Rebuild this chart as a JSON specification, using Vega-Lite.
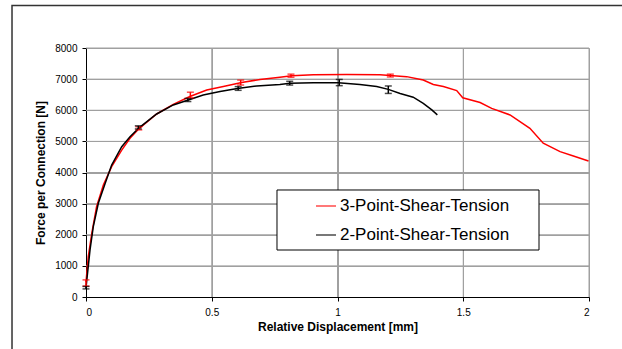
{
  "$schema": "https://vega.github.io/schema/vega-lite/v6.json",
  "width": 503,
  "height": 249,
  "autosize": {"type": "none"},
  "padding": {"left": 86, "top": 48, "right": 33, "bottom": 52},
  "background": "white",
  "config": {
    "font": "Liberation Sans",
    "view": {"stroke": null},
    "axis": {
      "domainColor": "#000000",
      "domainWidth": 1,
      "tickColor": "#000000",
      "tickSize": 4,
      "tickWidth": 1,
      "grid": true,
      "gridColor": "#a0a0a0",
      "gridWidth": 1,
      "labelFontSize": 10,
      "labelColor": "#000000",
      "labelFont": "Liberation Sans",
      "titleFont": "Liberation Sans",
      "titleFontSize": 12,
      "titleFontWeight": "bold",
      "titleColor": "#000000"
    },
    "axisX": {"labelPadding": 6, "titlePadding": 4},
    "axisY": {"labelPadding": 5, "titlePadding": 7}
  },
  "datasets": {
    "gridX": [{"gx": 0.5}, {"gx": 1}, {"gx": 1.5}, {"gx": 2}],
    "gridY": [{"gy": 1000}, {"gy": 2000}, {"gy": 3000}, {"gy": 4000}, {"gy": 5000}, {"gy": 6000}, {"gy": 7000}, {"gy": 8000}],
    "curves": [
      {"series": "3-Point-Shear-Tension", "d": 0, "force": 480},
      {"series": "3-Point-Shear-Tension", "d": 0.009, "force": 1295},
      {"series": "3-Point-Shear-Tension", "d": 0.023, "force": 2045},
      {"series": "3-Point-Shear-Tension", "d": 0.042, "force": 2900},
      {"series": "3-Point-Shear-Tension", "d": 0.069, "force": 3600},
      {"series": "3-Point-Shear-Tension", "d": 0.102, "force": 4190},
      {"series": "3-Point-Shear-Tension", "d": 0.142, "force": 4720},
      {"series": "3-Point-Shear-Tension", "d": 0.175, "force": 5100},
      {"series": "3-Point-Shear-Tension", "d": 0.212, "force": 5420},
      {"series": "3-Point-Shear-Tension", "d": 0.281, "force": 5880},
      {"series": "3-Point-Shear-Tension", "d": 0.347, "force": 6190},
      {"series": "3-Point-Shear-Tension", "d": 0.413, "force": 6440},
      {"series": "3-Point-Shear-Tension", "d": 0.48, "force": 6650},
      {"series": "3-Point-Shear-Tension", "d": 0.546, "force": 6760},
      {"series": "3-Point-Shear-Tension", "d": 0.619, "force": 6890},
      {"series": "3-Point-Shear-Tension", "d": 0.692, "force": 6990},
      {"series": "3-Point-Shear-Tension", "d": 0.771, "force": 7060},
      {"series": "3-Point-Shear-Tension", "d": 0.818, "force": 7110},
      {"series": "3-Point-Shear-Tension", "d": 0.904, "force": 7140},
      {"series": "3-Point-Shear-Tension", "d": 1.037, "force": 7150},
      {"series": "3-Point-Shear-Tension", "d": 1.169, "force": 7140},
      {"series": "3-Point-Shear-Tension", "d": 1.222, "force": 7110},
      {"series": "3-Point-Shear-Tension", "d": 1.275, "force": 7080},
      {"series": "3-Point-Shear-Tension", "d": 1.341, "force": 6970},
      {"series": "3-Point-Shear-Tension", "d": 1.381, "force": 6830},
      {"series": "3-Point-Shear-Tension", "d": 1.421, "force": 6760},
      {"series": "3-Point-Shear-Tension", "d": 1.474, "force": 6630},
      {"series": "3-Point-Shear-Tension", "d": 1.498, "force": 6400},
      {"series": "3-Point-Shear-Tension", "d": 1.567, "force": 6250},
      {"series": "3-Point-Shear-Tension", "d": 1.613, "force": 6060},
      {"series": "3-Point-Shear-Tension", "d": 1.686, "force": 5850},
      {"series": "3-Point-Shear-Tension", "d": 1.765, "force": 5420},
      {"series": "3-Point-Shear-Tension", "d": 1.818, "force": 4940},
      {"series": "3-Point-Shear-Tension", "d": 1.885, "force": 4670},
      {"series": "3-Point-Shear-Tension", "d": 1.938, "force": 4530},
      {"series": "3-Point-Shear-Tension", "d": 1.998, "force": 4370},
      {"series": "2-Point-Shear-Tension", "d": 0, "force": 300},
      {"series": "2-Point-Shear-Tension", "d": 0.016, "force": 1510},
      {"series": "2-Point-Shear-Tension", "d": 0.029, "force": 2260},
      {"series": "2-Point-Shear-Tension", "d": 0.049, "force": 3010},
      {"series": "2-Point-Shear-Tension", "d": 0.076, "force": 3650},
      {"series": "2-Point-Shear-Tension", "d": 0.102, "force": 4240},
      {"series": "2-Point-Shear-Tension", "d": 0.142, "force": 4830},
      {"series": "2-Point-Shear-Tension", "d": 0.175, "force": 5150},
      {"series": "2-Point-Shear-Tension", "d": 0.212, "force": 5440},
      {"series": "2-Point-Shear-Tension", "d": 0.281, "force": 5880},
      {"series": "2-Point-Shear-Tension", "d": 0.347, "force": 6170},
      {"series": "2-Point-Shear-Tension", "d": 0.407, "force": 6330},
      {"series": "2-Point-Shear-Tension", "d": 0.466, "force": 6490},
      {"series": "2-Point-Shear-Tension", "d": 0.533, "force": 6600},
      {"series": "2-Point-Shear-Tension", "d": 0.602, "force": 6700},
      {"series": "2-Point-Shear-Tension", "d": 0.679, "force": 6780},
      {"series": "2-Point-Shear-Tension", "d": 0.771, "force": 6830},
      {"series": "2-Point-Shear-Tension", "d": 0.811, "force": 6870},
      {"series": "2-Point-Shear-Tension", "d": 0.904, "force": 6880},
      {"series": "2-Point-Shear-Tension", "d": 1.003, "force": 6880},
      {"series": "2-Point-Shear-Tension", "d": 1.089, "force": 6830},
      {"series": "2-Point-Shear-Tension", "d": 1.156, "force": 6760},
      {"series": "2-Point-Shear-Tension", "d": 1.202, "force": 6670},
      {"series": "2-Point-Shear-Tension", "d": 1.249, "force": 6540},
      {"series": "2-Point-Shear-Tension", "d": 1.301, "force": 6420},
      {"series": "2-Point-Shear-Tension", "d": 1.341, "force": 6220},
      {"series": "2-Point-Shear-Tension", "d": 1.375, "force": 6010},
      {"series": "2-Point-Shear-Tension", "d": 1.397, "force": 5850}
    ],
    "errors": [
      {"series": "3-Point-Shear-Tension", "d": 0, "lo": 350, "hi": 550},
      {"series": "3-Point-Shear-Tension", "d": 0.21, "lo": 5370, "hi": 5470},
      {"series": "3-Point-Shear-Tension", "d": 0.415, "lo": 6400, "hi": 6580},
      {"series": "3-Point-Shear-Tension", "d": 0.615, "lo": 6810, "hi": 6970},
      {"series": "3-Point-Shear-Tension", "d": 0.815, "lo": 7060, "hi": 7160},
      {"series": "3-Point-Shear-Tension", "d": 1.21, "lo": 7070, "hi": 7160},
      {"series": "2-Point-Shear-Tension", "d": 0, "lo": 260, "hi": 340},
      {"series": "2-Point-Shear-Tension", "d": 0.208, "lo": 5400, "hi": 5500},
      {"series": "2-Point-Shear-Tension", "d": 0.405, "lo": 6280, "hi": 6380},
      {"series": "2-Point-Shear-Tension", "d": 0.605, "lo": 6640, "hi": 6760},
      {"series": "2-Point-Shear-Tension", "d": 0.81, "lo": 6810, "hi": 6930},
      {"series": "2-Point-Shear-Tension", "d": 1.007, "lo": 6790, "hi": 6990},
      {"series": "2-Point-Shear-Tension", "d": 1.202, "lo": 6540, "hi": 6780}
    ]
  },
  "layer": [
    {
      "data": {"name": "gridX"},
      "mark": {"type": "rule", "stroke": "#a0a0a0", "strokeWidth": 1, "opacity": 1},
      "encoding": {
        "x": {
          "field": "gx",
          "type": "quantitative",
          "title": "Relative Displacement [mm]",
          "scale": {"domain": [0, 2], "nice": false, "zero": false},
          "axis": {"values": [0, 0.5, 1, 1.5, 2], "format": "~g", "grid": true}
        }
      }
    },
    {
      "data": {"name": "gridY"},
      "mark": {"type": "rule", "stroke": "#a0a0a0", "strokeWidth": 1, "opacity": 1},
      "encoding": {
        "y": {
          "field": "gy",
          "type": "quantitative",
          "title": "Force per Connection [N]",
          "scale": {"domain": [0, 8000], "nice": false},
          "axis": {"values": [0, 1000, 2000, 3000, 4000, 5000, 6000, 7000, 8000], "format": "d", "grid": true}
        }
      }
    },
    {
      "data": {"name": "curves"},
      "mark": {"type": "line", "strokeWidth": 1.5},
      "encoding": {
        "x": {
          "field": "d",
          "type": "quantitative",
          "title": "Relative Displacement [mm]",
          "scale": {"domain": [0, 2], "nice": false, "zero": false},
          "axis": {"values": [0, 0.5, 1, 1.5, 2], "format": "~g", "grid": true}
        },
        "y": {
          "field": "force",
          "type": "quantitative",
          "title": "Force per Connection [N]",
          "scale": {"domain": [0, 8000], "nice": false},
          "axis": {"values": [0, 1000, 2000, 3000, 4000, 5000, 6000, 7000, 8000], "format": "d", "grid": true}
        },
        "color": {
          "field": "series",
          "type": "nominal",
          "scale": {
            "domain": ["3-Point-Shear-Tension", "2-Point-Shear-Tension"],
            "range": ["#ff0000", "#000000"]
          },
          "legend": {
            "title": null,
            "orient": "none",
            "legendX": 191,
            "legendY": 142,
            "padding": 5,
            "symbolType": "stroke",
            "symbolSize": 400,
            "symbolStrokeWidth": 1.5,
            "symbolOffset": 33,
            "labelFontSize": 17,
            "labelFont": "Liberation Sans",
            "labelColor": "#000000",
            "labelOffset": 3,
            "labelLimit": 400,
            "rowPadding": 10
          }
        }
      }
    },
    {
      "data": {"name": "errors"},
      "mark": {"type": "errorbar", "ticks": {"size": 7, "thickness": 1.5}, "thickness": 1.5},
      "encoding": {
        "x": {
          "field": "d",
          "type": "quantitative",
          "title": "Relative Displacement [mm]",
          "scale": {"domain": [0, 2], "nice": false, "zero": false},
          "axis": {"values": [0, 0.5, 1, 1.5, 2], "format": "~g", "grid": true}
        },
        "y": {
          "field": "lo",
          "type": "quantitative",
          "title": "Force per Connection [N]",
          "scale": {"domain": [0, 8000], "nice": false},
          "axis": {"values": [0, 1000, 2000, 3000, 4000, 5000, 6000, 7000, 8000], "format": "d", "grid": true}
        },
        "y2": {"field": "hi"},
        "color": {"field": "series", "type": "nominal"}
      }
    },
    {
      "data": {"values": [{}]},
      "mark": {"type": "rect", "fill": "#ffffff", "stroke": "#000000", "strokeWidth": 1},
      "encoding": {
        "x": {
          "datum": 0.7594,
          "type": "quantitative",
          "title": "Relative Displacement [mm]",
          "scale": {"domain": [0, 2], "nice": false, "zero": false},
          "axis": {"values": [0, 0.5, 1, 1.5, 2], "format": "~g", "grid": true}
        },
        "x2": {"datum": 1.8012},
        "y": {
          "datum": 3438,
          "type": "quantitative",
          "title": "Force per Connection [N]",
          "scale": {"domain": [0, 8000], "nice": false},
          "axis": {"values": [0, 1000, 2000, 3000, 4000, 5000, 6000, 7000, 8000], "format": "d", "grid": true}
        },
        "y2": {"datum": 1510}
      }
    },
    {
      "data": {"values": [{}]},
      "mark": {"type": "rect", "fill": null, "stroke": "#333333", "strokeWidth": 1.5},
      "encoding": {
        "x": {
          "datum": -0.2942,
          "type": "quantitative",
          "title": "Relative Displacement [mm]",
          "scale": {"domain": [0, 2], "nice": false, "zero": false},
          "axis": {"values": [0, 0.5, 1, 1.5, 2], "format": "~g", "grid": true}
        },
        "x2": {"datum": 2.203},
        "y": {
          "datum": 9365,
          "type": "quantitative",
          "title": "Force per Connection [N]",
          "scale": {"domain": [0, 8000], "nice": false},
          "axis": {"values": [0, 1000, 2000, 3000, 4000, 5000, 6000, 7000, 8000], "format": "d", "grid": true}
        },
        "y2": {"datum": -2024}
      }
    }
  ]
}
